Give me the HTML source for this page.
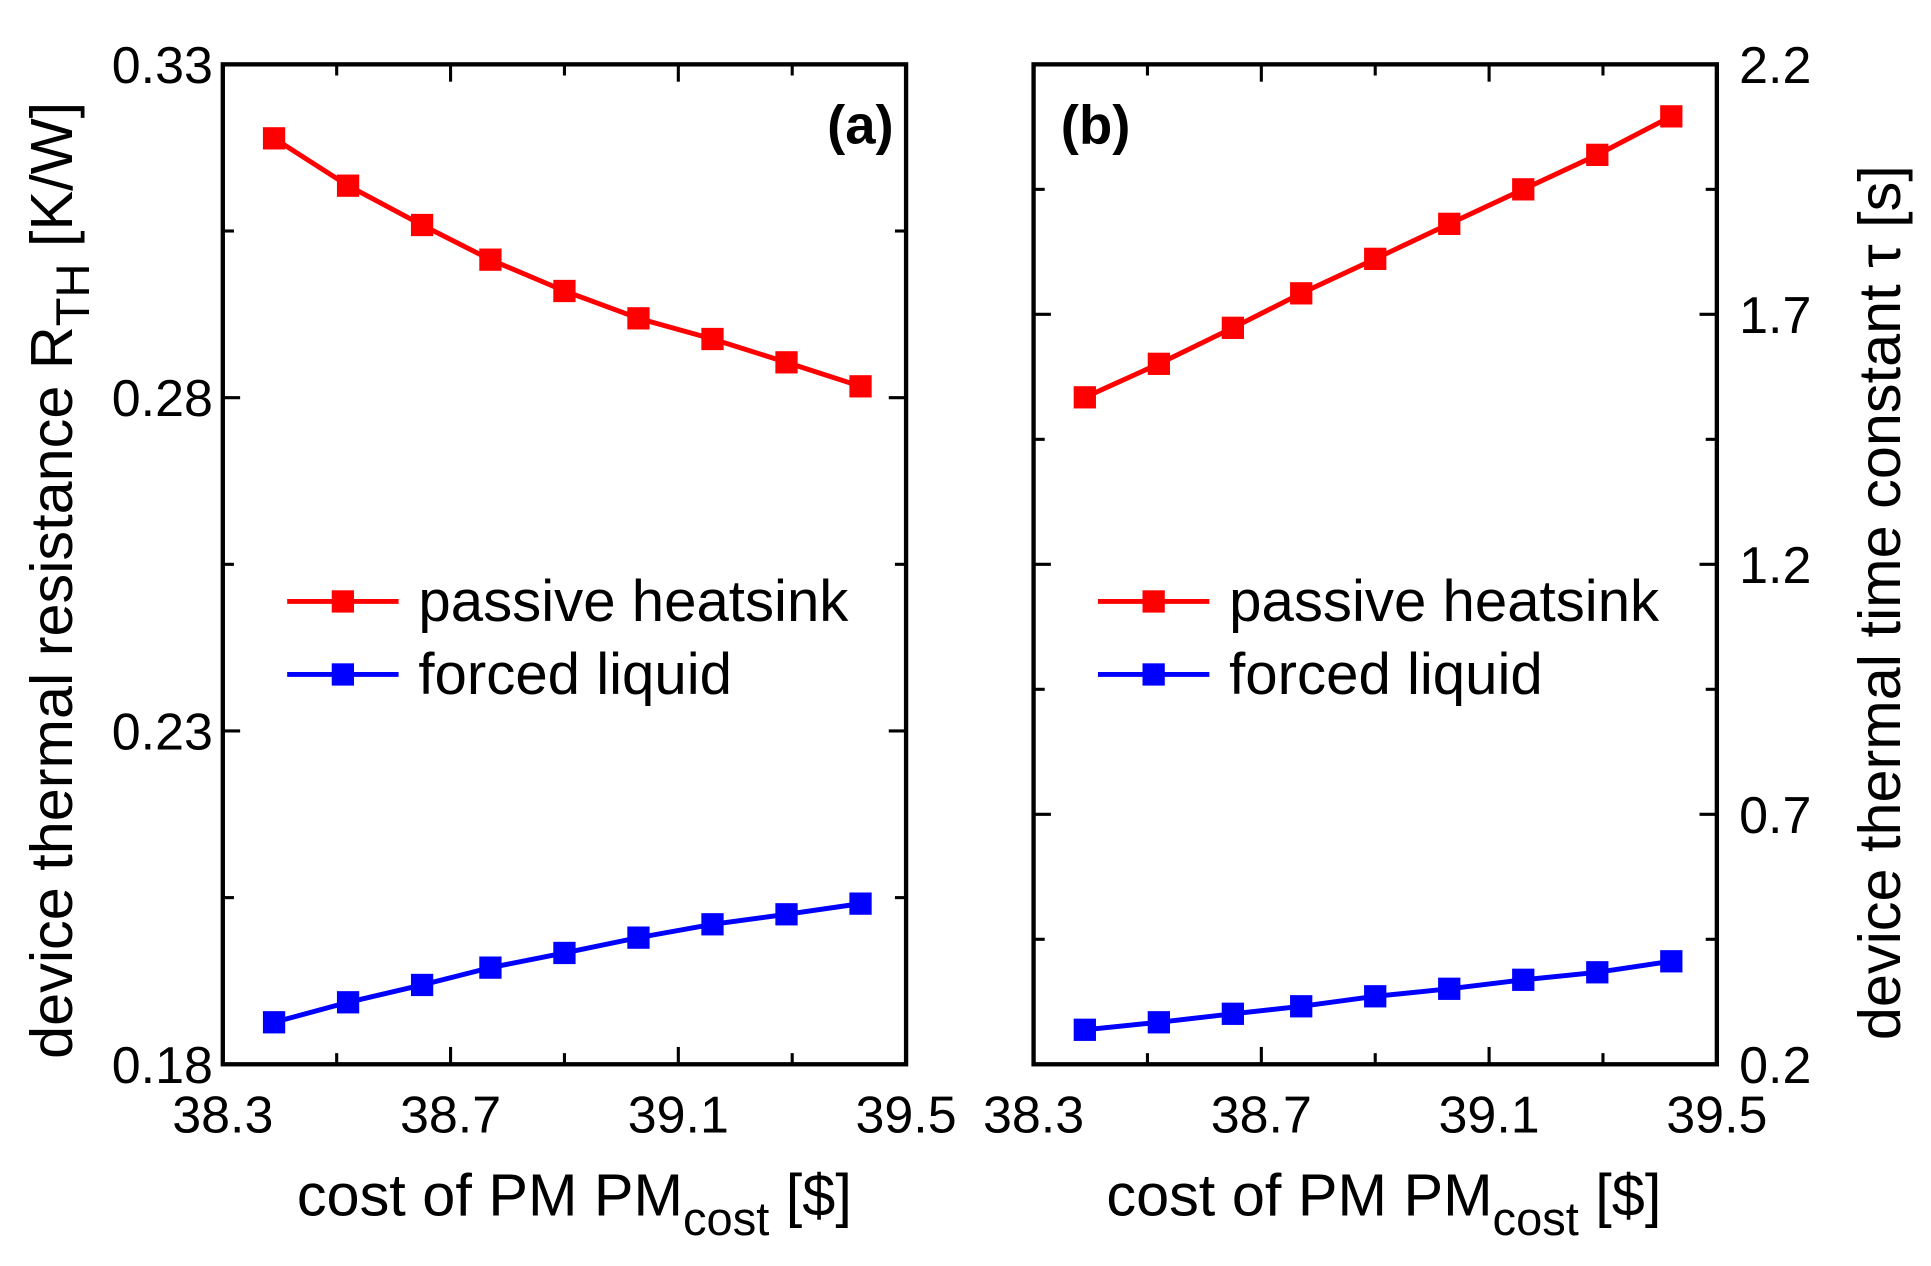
<!DOCTYPE html>
<html><head><meta charset="utf-8"><style>
html,body{margin:0;padding:0;background:#fff}
svg{display:block}
text{font-family:"Liberation Sans",Arial,sans-serif;fill:#000}
</style></head><body>
<svg id="chart" width="1931" height="1266" viewBox="0 0 1560 1023" preserveAspectRatio="none" xmlns="http://www.w3.org/2000/svg">
<g id="g"></g>
</svg>
<script>
const xVals = [38.39, 38.52, 38.65, 38.77, 38.90, 39.03, 39.16, 39.29, 39.42];
const aPassive = [0.3189, 0.3118, 0.3059, 0.3007, 0.2960, 0.2919, 0.2888, 0.2853, 0.2817];
const aForced = [0.1863, 0.1893, 0.1919, 0.1945, 0.1967, 0.1990, 0.2010, 0.2025, 0.2041];
const bPassive = [1.534, 1.601, 1.673, 1.742, 1.811, 1.881, 1.950, 2.019, 2.096];
const bForced = [0.269, 0.284, 0.301, 0.316, 0.336, 0.351, 0.369, 0.384, 0.406];
const xTickLabels = ["38.3", "38.7", "39.1", "39.5"];
const aYTickLabels = ["0.18", "0.23", "0.28", "0.33"];
const bYTickLabels = ["0.2", "0.7", "1.2", "1.7", "2.2"];

const NS = "http://www.w3.org/2000/svg";
const root = document.getElementById('g');
function el(tag, attrs, parent, txt) {
  const e = document.createElementNS(NS, tag);
  for (const k in attrs) e.setAttribute(k, attrs[k]);
  if (txt !== undefined) e.textContent = txt;
  (parent || root).appendChild(e);
  return e;
}
const TOP = 52, BOT = 860;
function panel(name, L, R, ymin, ymax, majorStep, minorStep, yLabels, p, f, labelSide) {
  const grp = el('g', {});
  
  
  const xs = v => L + (v - 38.3) / 1.2 * (R - L);
  const ys = v => BOT - (v - ymin) / (ymax - ymin) * (BOT - TOP);
  const frame = el('rect', {x: L, y: TOP, width: R - L, height: BOT - TOP, fill: 'none', stroke: '#000', 'stroke-width': 3.5}, grp);
  
  
  for (let i = 1; i < 6; i++) {
    const v = 38.3 + i * 0.2, x = xs(v), len = i % 2 === 0 ? 14 : 9;
    el('line', {x1: x, x2: x, y1: BOT, y2: BOT - len, stroke: '#000', 'stroke-width': 2.5}, grp);
    el('line', {x1: x, x2: x, y1: TOP, y2: TOP + len, stroke: '#000', 'stroke-width': 2.5}, grp);
  }
  xTickLabels.forEach((t, i) => {
    const lab = el('text', {x: xs(38.3 + i * 0.4), y: 915, 'font-size': 42, 'text-anchor': 'middle'}, grp, t);
    
    
  });
  const n = Math.round((ymax - ymin) / minorStep);
  for (let i = 1; i < n; i++) {
    const v = ymin + i * minorStep, y = ys(v);
    const major = Math.abs(Math.round((v - ymin) / majorStep) * majorStep - (v - ymin)) < 1e-6;
    const len = major ? 14 : 9;
    el('line', {x1: L, x2: L + len, y1: y, y2: y, stroke: '#000', 'stroke-width': 2.5}, grp);
    el('line', {x1: R, x2: R - len, y1: y, y2: y, stroke: '#000', 'stroke-width': 2.5}, grp);
  }
  yLabels.forEach((t, i) => {
    const v = ymin + i * majorStep;
    const lab = labelSide === 'left'
      ? el('text', {x: L - 8, y: ys(v) + 15, 'font-size': 42, 'text-anchor': 'end'}, grp, t)
      : el('text', {x: R + 18, y: ys(v) + 15, 'font-size': 42, 'text-anchor': 'start'}, grp, t);
    
    
  });
  function series(vals, color, sname) {
    const pts = vals.map((v, i) => xs(xVals[i]) + ',' + ys(v)).join(' ');
    const line = el('polyline', {points: pts, fill: 'none', stroke: color, 'stroke-width': 4}, grp);
    
    
    vals.forEach((v, i) => {
      const m = el('rect', {x: xs(xVals[i]) - 9, y: ys(v) - 9, width: 18, height: 18, fill: color}, grp);
      
      
    });
  }
  series(p, '#ff0000', 'passive-heatsink');
  series(f, '#0000ff', 'forced-liquid');
  const lx = L + 52;
  [['passive heatsink', '#ff0000', 486], ['forced liquid', '#0000ff', 545]].forEach(([t, c, y]) => {
    const lg = el('g', {}, grp);
    
    
    el('line', {x1: lx, x2: lx + 90, y1: y, y2: y, stroke: c, 'stroke-width': 4}, lg);
    el('rect', {x: lx + 36, y: y - 9, width: 18, height: 18, fill: c}, lg);
    el('text', {x: lx + 106, y: y + 16, 'font-size': 47}, lg, t);
  });
  return {xs, ys, grp};
}
panel('panel-a', 180, 732, 0.18, 0.33, 0.05, 0.025, aYTickLabels, aPassive, aForced, 'left');
panel('panel-b', 835, 1387, 0.2, 2.2, 0.5, 0.25, bYTickLabels, bPassive, bForced, 'right');

let t;
t = el('text', {x: 722, y: 116, 'font-size': 44, 'font-weight': 'bold', 'text-anchor': 'end'}, root, '(a)');


t = el('text', {x: 857, y: 116, 'font-size': 44, 'font-weight': 'bold'}, root, '(b)');



function xTitle(cx) {
  const tt = el('text', {x: cx, y: 982, 'font-size': 48, 'text-anchor': 'middle'});
  
  
  el('tspan', {}, tt, 'cost of PM PM');
  el('tspan', {dy: 16, 'font-size': 38}, tt, 'cost');
  el('tspan', {dy: -16}, tt, ' [$]');
}
xTitle(464);
xTitle(1118);

t = el('text', {x: 0, y: 0, 'font-size': 48, 'text-anchor': 'middle', transform: 'translate(58,469) rotate(-90)'});


el('tspan', {}, t, 'device thermal resistance R');
el('tspan', {dy: 14, 'font-size': 38}, t, 'TH');
el('tspan', {dy: -14}, t, ' [K/W]');

t = el('text', {x: 0, y: 0, 'font-size': 48, 'text-anchor': 'middle', transform: 'translate(1535,487) rotate(-90)'}, root, 'device thermal time constant \u03C4 [s]');


</script>
</body></html>
